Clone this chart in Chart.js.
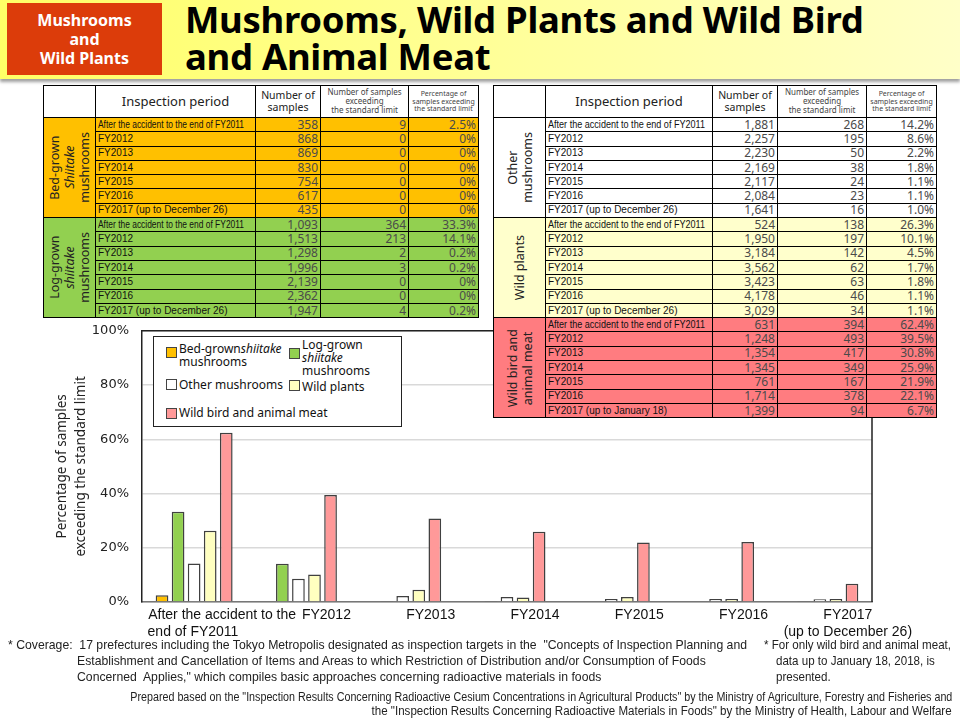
<!DOCTYPE html>
<html lang="en">
<head>
<meta charset="UTF-8">
<title>Mushrooms, Wild Plants and Wild Bird and Animal Meat</title>
<script src="https://cdn.jsdelivr.net/npm/chart.js"></script>
<style>
  body { margin: 0; }
  #page { position: relative; width: 960px; height: 720px; overflow: hidden; background: #fff; font-family: "Noto Sans", sans-serif; }
  #header { position: absolute; left: 0; top: 0; width: 960px; height: 79px;
    background: linear-gradient(to right, #ffff66 0%, #ffff88 35%, #ffffc8 100%);
    box-shadow: 0 3px 3px #a0a0a0; }
  #tag { position: absolute; left: 7px; top: 3px; width: 155px; height: 72px; background: #dc3c0a;
    color: #fff; font-weight: bold; font-size: 16px; line-height: 19px; text-align: center;
    display: flex; align-items: center; justify-content: center; }
  #title { position: absolute; left: 185px; top: 1px; font-size: 36.5px; font-weight: bold; line-height: 37px; color: #000; letter-spacing: -0.3px; }
  #chartBox { position: absolute; left: 0; top: 310px; width: 960px; height: 342px; }
  table.data { position: absolute; border-collapse: collapse; table-layout: fixed; z-index: 2; background: #fff; }
  table.data td { border: 1.5px solid #000; padding: 0 2px; height: 13.3px; line-height: 12px; overflow: hidden; white-space: nowrap; }
  table.data tr.head td { height: 31px; text-align: center; line-height: 1.1; white-space: normal; color: #222; }
  td.per { font-family: "Liberation Sans", Arial, sans-serif; font-size: 10px; color: #111; }
  td.per span { display: inline-block; transform-origin: left center; }
  td.num { text-align: right; font-size: 12px; color: #4a4a4a; }
  td.grp { padding: 0; text-align: center; }
  td.grp div { writing-mode: vertical-rl; transform: rotate(180deg); margin: 0 auto; font-size: 12.5px; line-height: 15px; color: #222; }
  #legend { position: absolute; left: 153px; top: 336px; width: 247px; height: 89px; border: 1.5px solid #222; background: #fff; z-index: 1;
    font-size: 12px; line-height: 13px; color: #111; }
  .lg { position: absolute; }
  .sw { position: absolute; width: 9px; height: 9px; border: 1.5px solid #444; }
  .note { position: absolute; font-family: "Liberation Sans", Arial, sans-serif; font-size: 13px; color: #222; line-height: 16px; white-space: nowrap; display: inline-block; transform-origin: left center; }
  .note.r { transform-origin: right center; font-size: 12px; }
</style>
</head>
<body>
<div id="page">
  <div id="header">
    <div id="tag">Mushrooms<br>and<br>Wild Plants</div>
    <div id="title">Mushrooms, Wild Plants and Wild Bird<br>and Animal Meat</div>
  </div>

  <div id="chartBox"><canvas id="myChart"></canvas></div>

  <table class="data" id="leftTable" style="left:43px; top:85px; width:435px;"></table>
  <table class="data" id="rightTable" style="left:493px; top:85px; width:443px;"></table>

  <div id="legend">
    <div class="sw" style="left:12px; top:10px; background:#ffc000;"></div>
    <div class="lg" style="left:25px; top:5px;">Bed-grown<i>shiitake</i><br>mushrooms</div>
    <div class="sw" style="left:135px; top:11px; background:#92d050;"></div>
    <div class="lg" style="left:148px; top:1px;">Log-grown<br><i>shiitake</i><br>mushrooms</div>
    <div class="sw" style="left:12px; top:42px; background:#ffffff;"></div>
    <div class="lg" style="left:25px; top:41px;">Other mushrooms</div>
    <div class="sw" style="left:135px; top:43px; background:#ffffc0;"></div>
    <div class="lg" style="left:148px; top:43px;">Wild plants</div>
    <div class="sw" style="left:12px; top:71px; background:#ff9999;"></div>
    <div class="lg" style="left:25px; top:69px;">Wild bird and animal meat</div>
  </div>

  <div class="note" data-g="cov" data-w="739" style="left:8px; top:637px;">* Coverage:&nbsp; 17 prefectures including the Tokyo Metropolis designated as inspection targets in the&nbsp; "Concepts of Inspection Planning and</div>
  <div class="note" data-g="cov" style="left:77px; top:653px;">Establishment and Cancellation of Items and Areas to which Restriction of Distribution and/or Consumption of Foods</div>
  <div class="note" data-g="cov" style="left:77px; top:669px;">Concerned&nbsp; Applies," which compiles basic approaches concerning radioactive materials in foods</div>
  <div class="note" data-g="only" data-w="187" style="left:764px; top:637px;">* For only wild bird and animal meat,</div>
  <div class="note" data-g="only" style="left:776px; top:653px;">data up to January 18, 2018, is</div>
  <div class="note" data-g="only" style="left:776px; top:669px;">presented.</div>
  <div class="note r" data-w="822" style="right:8px; top:689px;">Prepared based on the "Inspection Results Concerning Radioactive Cesium Concentrations in Agricultural Products" by the Ministry of Agriculture, Forestry and Fisheries and</div>
  <div class="note r" data-w="580" style="right:8px; top:703px;">the "Inspection Results Concerning Radioactive Materials in Foods" by the Ministry of Health, Labour and Welfare</div>
</div>

<script>
  // Inspection periods
  const periods = ['After the accident to the end of FY2011', 'FY2012', 'FY2013', 'FY2014', 'FY2015', 'FY2016', 'FY2017 (up to December 26)'];
  const meatPeriods = ['After the accident to the end of FY2011', 'FY2012', 'FY2013', 'FY2014', 'FY2015', 'FY2016', 'FY2017 (up to January 18)'];
  const chartLabels = [['After the accident to the', 'end of FY2011               '], 'FY2012', 'FY2013', 'FY2014', 'FY2015', 'FY2016', ['FY2017', '(up to December 26)']];

  // Bed-grown shiitake
  const bedSamples = [358, 868, 869, 830, 754, 617, 435];
  const bedExceed = [9, 0, 0, 0, 0, 0, 0];
  const bedPct = [2.5, 0, 0, 0, 0, 0, 0];
  // Log-grown shiitake
  const logSamples = [1093, 1513, 1298, 1996, 2139, 2362, 1947];
  const logExceed = [364, 213, 2, 3, 0, 0, 4];
  const logPct = [33.3, 14.1, 0.2, 0.2, 0, 0, 0.2];
  // Other mushrooms
  const otherSamples = [1881, 2257, 2230, 2169, 2117, 2084, 1641];
  const otherExceed = [268, 195, 50, 38, 24, 23, 16];
  const otherPct = [14.2, 8.6, 2.2, 1.8, 1.1, 1.1, 1.0];
  // Wild plants
  const plantSamples = [524, 1950, 3184, 3562, 3423, 4178, 3029];
  const plantExceed = [138, 197, 142, 62, 63, 46, 34];
  const plantPct = [26.3, 10.1, 4.5, 1.7, 1.8, 1.1, 1.1];
  // Wild bird and animal meat
  const meatSamples = [631, 1248, 1354, 1345, 761, 1714, 1399];
  const meatExceed = [394, 493, 417, 349, 167, 378, 94];
  const meatPct = [62.4, 39.5, 30.8, 25.9, 21.9, 22.1, 6.7];

  const yTicks = [0, 20, 40, 60, 80, 100];

  // Tables
  function fmtPct(v) { return v === 0 ? '0%' : v.toFixed(1) + '%'; }
  function fmtNum(v) { return v.toLocaleString('en-US'); }

  function headRow(widths) {
    return '<colgroup>' + widths.map(w => '<col style="width:' + w + 'px">').join('') + '</colgroup>' +
      '<tr class="head"><td></td>' +
      '<td style="font-size:13px;">Inspection period</td>' +
      '<td style="font-size:10.5px;">Number of samples</td>' +
      '<td style="font-size:8px; color:#444;">Number of samples exceeding<br>the standard limit</td>' +
      '<td style="font-size:7px; color:#444;">Percentage of samples exceeding the standard limit</td></tr>';
  }

  function groupRows(label, bg, per, samples, exceed, pct, firstW) {
    let html = '';
    for (let i = 0; i < per.length; i++) {
      html += '<tr style="background:' + bg + '">';
      if (i === 0) html += '<td class="grp" rowspan="' + per.length + '"><div>' + label + '</div></td>';
      const fit = i === 0 ? ' data-w="' + firstW + '"' : '';
      html += '<td class="per"><span' + fit + '>' + per[i] + '</span></td>' +
        '<td class="num">' + fmtNum(samples[i]) + '</td>' +
        '<td class="num">' + fmtNum(exceed[i]) + '</td>' +
        '<td class="num">' + fmtPct(pct[i]) + '</td></tr>';
    }
    return html;
  }

  document.getElementById('leftTable').innerHTML = headRow([52, 160, 65, 88, 70]) +
    groupRows('Bed-grown<br><i>Shiitake</i><br>mushrooms', '#ffc000', periods, bedSamples, bedExceed, bedPct, 146) +
    groupRows('Log-grown<br><i>shiitake</i><br>mushrooms', '#92d050', periods, logSamples, logExceed, logPct, 146);

  document.getElementById('rightTable').innerHTML = headRow([52, 167, 65, 89, 70]) +
    groupRows('Other<br>mushrooms', '#ffffff', periods, otherSamples, otherExceed, otherPct, 157) +
    groupRows('Wild plants', '#ffffcc', periods, plantSamples, plantExceed, plantPct, 157) +
    groupRows('Wild bird and<br>animal meat', '#ff7c80', meatPeriods, meatSamples, meatExceed, meatPct, 157);

  // squeeze condensed-looking texts to their widths in the slide; a group shares one factor
  const groupScale = {};
  document.querySelectorAll('[data-w]').forEach(el => {
    const w = el.getBoundingClientRect().width;
    if (w > 0) {
      const k = el.dataset.w / w;
      el.style.transform = 'scaleX(' + k + ')';
      if (el.dataset.g) groupScale[el.dataset.g] = k;
    }
  });
  document.querySelectorAll('[data-g]:not([data-w])').forEach(el => {
    el.style.transform = 'scaleX(' + groupScale[el.dataset.g] + ')';
  });

  // Frame around the plot area (top and right edges)
  const frame = {
    id: 'frame',
    afterDraw(chart) {
      const a = chart.chartArea, c = chart.ctx;
      c.save();
      c.strokeStyle = '#222';
      c.lineWidth = 1.5;
      c.beginPath();
      c.moveTo(a.left, a.top);
      c.lineTo(a.right, a.top);
      c.lineTo(a.right, a.bottom);
      c.stroke();
      c.restore();
    }
  };

  function ds(label, data, color) {
    return { label: label, data: data, backgroundColor: color, borderColor: '#404040', borderWidth: 1.5,
      categoryPercentage: 0.77, barPercentage: 0.79 };
  }

  new Chart(document.getElementById('myChart'), {
    type: 'bar',
    data: {
      labels: chartLabels,
      datasets: [
        ds('Bed-grown shiitake mushrooms', bedPct, '#ffc000'),
        ds('Log-grown shiitake mushrooms', logPct, '#92d050'),
        ds('Other mushrooms', otherPct, '#ffffff'),
        ds('Wild plants', plantPct, '#ffffc0'),
        ds('Wild bird and animal meat', meatPct, '#ff9999')
      ]
    },
    options: {
      responsive: true,
      maintainAspectRatio: false,
      animation: false,
      layout: { padding: { left: 51, right: 88, top: 0, bottom: 0 } },
      plugins: { legend: { display: false }, tooltip: { enabled: false } },
      scales: {
        x: {
          grid: { display: false, drawTicks: false },
          border: { color: '#777', width: 1.5 },
          ticks: { color: '#111', padding: 5, labelOffset: 28, maxRotation: 0, autoSkip: false,
            font: { family: '"Liberation Sans", Arial, sans-serif', size: 14 } },
          afterFit: s => { s.height = 50; }
        },
        y: {
          min: 0, max: 100,
          afterBuildTicks: s => { s.ticks = yTicks.map(v => ({ value: v })); },
          grid: { color: '#d9d9d9', lineWidth: 1.5, drawTicks: false },
          border: { color: '#222', width: 1.5 },
          ticks: { color: '#222', padding: 13, callback: v => v + '%',
            font: { family: '"DejaVu Sans", sans-serif', size: 13 } },
          title: { display: true, text: ['Percentage of samples', 'exceeding the standard limit'], color: '#222',
            font: { family: '"Noto Sans", sans-serif', size: 13.5, lineHeight: 1.4 }, padding: 2 },
          afterFit: s => { s.width = 91; }
        }
      }
    },
    plugins: [frame]
  });
</script>
</body>
</html>
